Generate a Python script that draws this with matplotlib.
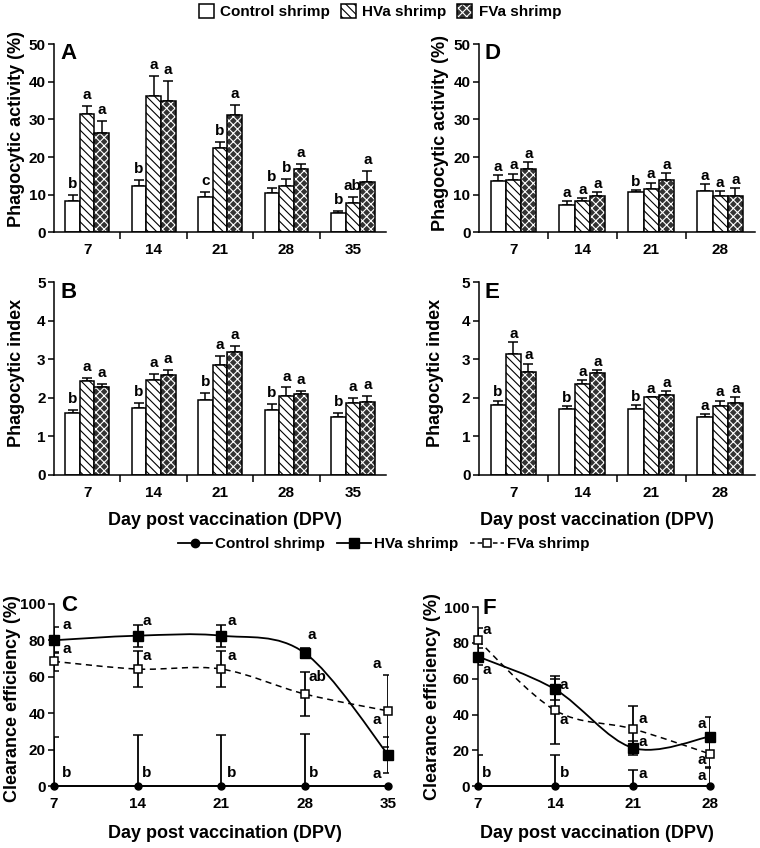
import numpy as np
import matplotlib
matplotlib.use('Agg')
from matplotlib import pyplot as plt
from matplotlib.patches import Patch, PathPatch
from matplotlib.lines import Line2D
from matplotlib.path import Path

plt.rcParams['font.family'] = ['Liberation Sans', 'DejaVu Sans']
plt.rcParams['font.weight'] = 'bold'
plt.rcParams['axes.labelweight'] = 'bold'
plt.rcParams['hatch.linewidth'] = 0.8

# ---------- data ----------
days5 = ['7', '14', '21', '28', '35']
days4 = ['7', '14', '21', '28']

# A: phagocytic activity (%), 5 time points
A_ctrl = [8.2, 12.4, 9.3, 10.5, 5.1]
A_ctrl_err = [1.8, 1.4, 1.5, 1.2, 0.6]
A_hva = [31.5, 36.1, 22.4, 12.4, 7.7]
A_hva_err = [2.1, 5.4, 1.5, 1.8, 1.6]
A_fva = [26.3, 35.0, 31.3, 16.8, 13.3]
A_fva_err = [3.4, 5.3, 2.6, 1.4, 2.9]
A_sig = [['b', 'a', 'a'], ['b', 'a', 'a'], ['c', 'b', 'a'], ['b', 'b', 'a'], ['b', 'ab', 'a']]

# B: phagocytic index
B_ctrl = [1.61, 1.75, 1.94, 1.69, 1.50]
B_ctrl_err = [0.08, 0.13, 0.18, 0.15, 0.11]
B_hva = [2.45, 2.47, 2.85, 2.05, 1.87]
B_hva_err = [0.07, 0.14, 0.24, 0.22, 0.12]
B_fva = [2.29, 2.59, 3.18, 2.11, 1.90]
B_fva_err = [0.08, 0.14, 0.17, 0.08, 0.15]
B_sig = [['b', 'a', 'a']] * 5

# D: phagocytic activity (%), 4 time points
D_ctrl = [13.7, 7.3, 10.7, 10.9]
D_ctrl_err = [1.6, 0.9, 0.6, 1.9]
D_hva = [14.0, 8.2, 11.5, 9.7]
D_hva_err = [1.6, 0.9, 1.7, 1.2]
D_fva = [16.8, 9.7, 13.9, 9.7]
D_fva_err = [1.8, 0.9, 1.8, 2.1]
D_sig = [['a', 'a', 'a'], ['a', 'a', 'a'], ['b', 'a', 'a'], ['a', 'a', 'a']]

# E: phagocytic index
E_ctrl = [1.81, 1.72, 1.72, 1.50]
E_ctrl_err = [0.12, 0.07, 0.09, 0.07]
E_hva = [3.15, 2.35, 2.01, 1.78]
E_hva_err = [0.29, 0.12, 0.02, 0.15]
E_fva = [2.68, 2.65, 2.08, 1.88]
E_fva_err = [0.21, 0.08, 0.09, 0.15]
E_sig = [['b', 'a', 'a'], ['b', 'a', 'a'], ['b', 'a', 'a'], ['a', 'a', 'a']]

# C: clearance efficiency (%)
C_days = [7, 14, 21, 28, 35]
C_ctrl = [0, 0, 0, 0, 0]
C_ctrl_err = [27, 28, 28, 28.5, 0]
C_hva = [80, 82.5, 82.5, 73, 17]
C_hva_err = [7, 6, 6, 2.5, 10]
C_fva = [68.4, 64.2, 64.2, 50.5, 41.2]
C_fva_err = [5, 10, 10, 12, 20]
C_sig = [('a', 8.1, 88.5), ('a', 8.1, 75), ('b', 8.1, 7.3),
         ('a', 14.8, 90.8), ('a', 14.8, 71.6), ('b', 14.8, 7.3),
         ('a', 21.9, 90.8), ('a', 21.9, 71.6), ('b', 21.9, 7.3),
         ('a', 28.6, 82.6), ('ab', 29.1, 60), ('b', 28.75, 7.3),
         ('a', 34.0, 66.8), ('a', 34.0, 36.3), ('a', 34.0, 6.4)]

# F: clearance efficiency (%)
F_days = [7, 14, 21, 28]
F_ctrl = [0, 0, 0, 0]
F_ctrl_err = [17.5, 17.5, 9, 10]
F_hva = [72.4, 54, 21.4, 27.7]
F_hva_err = [5, 5.7, 4, 10.8]
F_fva = [81.4, 42.3, 32, 18]
F_fva_err = [7, 19, 12.5, 7.5]
F_sig = [('a', 7.8, 87.2), ('a', 7.8, 64.7), ('b', 7.8, 7.4),
         ('a', 14.8, 56.7), ('a', 14.8, 36.8), ('b', 14.8, 7.4),
         ('a', 21.9, 37.7), ('a', 21.9, 24.7), ('a', 21.9, 6.7),
         ('a', 27.3, 34.6), ('a', 27.3, 14.5), ('a', 27.3, 5.6)]

FVA_FACE = '#333333'
W = 0.22


def bar_panel(ax, labels, ctrl, ctrl_err, hva, hva_err, fva, fva_err, sig,
              ymax, ystep, letter, sig_off):
    x = np.arange(len(labels))
    zeros = [0] * len(labels)
    ax.bar(x - W, ctrl, W, color='white', edgecolor='black', linewidth=1.1, zorder=2)
    ax.bar(x, hva, W, color='white', edgecolor='black', hatch='\\\\\\\\', linewidth=1.1, zorder=2)
    ax.bar(x + W, fva, W, color=FVA_FACE, edgecolor='white', hatch='xxxx', linewidth=0, zorder=2)
    ax.bar(x + W, fva, W, fill=False, edgecolor='black', linewidth=1.1, zorder=3)
    for dx, vals, errs in [(-W, ctrl, ctrl_err), (0, hva, hva_err), (W, fva, fva_err)]:
        ax.errorbar(x + dx, vals, yerr=[zeros, errs], fmt='none', ecolor='black',
                    elinewidth=1.1, capsize=3.5, capthick=1.1, zorder=1)
    for i in range(len(labels)):
        for j, (dx, vals, errs) in enumerate([(-W, ctrl, ctrl_err), (0, hva, hva_err), (W, fva, fva_err)]):
            ax.annotate(sig[i][j], (x[i] + dx, vals[i] + errs[i]), xytext=(0, sig_off),
                        textcoords='offset points', ha='center', va='baseline', fontsize=11)
    ax.set_xlim(-0.5, len(labels) - 0.5)
    ax.set_ylim(0, ymax)
    ax.set_yticks(np.arange(0, ymax + ystep / 2, ystep))
    ax.set_xticks(x[:-1] + 0.5)
    ax.set_xticklabels([])
    ax.set_xticks(x, minor=True)
    ax.set_xticklabels(labels, minor=True)
    ax.tick_params(axis='x', which='major', direction='out', length=5, width=1.1)
    ax.tick_params(axis='x', which='minor', length=0, pad=8, labelsize=11)
    ax.tick_params(axis='y', direction='out', length=4, width=1.1, labelsize=11, pad=2)
    for s in ['top', 'right']:
        ax.spines[s].set_visible(False)
    for s in ['left', 'bottom']:
        ax.spines[s].set_linewidth(1.1)
    ax.text(0.02, 0.95, letter, transform=ax.transAxes, fontsize=16, ha='left', va='center')


def smooth_path(xs, ys):
    # Catmull-Rom style Bezier through the data points (like a smoothed line)
    pts = np.column_stack([xs, ys]).astype(float)
    ext = np.vstack([pts[0], pts, pts[-1]])
    verts = [pts[0]]
    codes = [Path.MOVETO]
    for i in range(len(pts) - 1):
        p0, p1, p2, p3 = ext[i], ext[i + 1], ext[i + 2], ext[i + 3]
        verts += [p1 + (p2 - p0) / 6, p2 - (p3 - p1) / 6, p2]
        codes += [Path.CURVE4] * 3
    return Path(verts, codes)


def line_panel(ax, days, ctrl, ctrl_err, hva, hva_err, fva, fva_err, sig, letter):
    ax.plot(days, ctrl, color='black', lw=1.3, marker='o', ms=5, clip_on=False, zorder=4)
    ax.add_patch(PathPatch(smooth_path(days, hva), fill=False, edgecolor='black', lw=1.3, zorder=3))
    ax.add_patch(PathPatch(smooth_path(days, fva), fill=False, edgecolor='black', lw=1.1,
                           linestyle=(0, (4, 3)), zorder=3))
    ax.plot(days, hva, ls='none', marker='s', ms=7, color='black', zorder=5, clip_on=False)
    ax.plot(days, fva, ls='none', marker='s', ms=5.5, mfc='white', mec='black', mew=1.1,
            zorder=5, clip_on=False)
    for vals, errs in [(ctrl, ctrl_err), (hva, hva_err), (fva, fva_err)]:
        ax.errorbar(days, vals, yerr=errs, fmt='none', ecolor='black', elinewidth=1.3,
                    capsize=3.5, capthick=1.1, zorder=2)
    for t, xx, yy in sig:
        ax.text(xx, yy, t, ha='center', va='center', fontsize=11)
    ax.set_xlim(days[0], days[-1])
    ax.set_ylim(0, 100)
    ax.set_xticks(days)
    ax.set_yticks(np.arange(0, 101, 20))
    ax.tick_params(axis='x', length=0, pad=8, labelsize=11)
    ax.tick_params(axis='y', direction='out', length=4, width=1.1, labelsize=11, pad=2)
    for s in ['top', 'right']:
        ax.spines[s].set_visible(False)
    for s in ['left', 'bottom']:
        ax.spines[s].set_linewidth(1.1)
    ax.text(0.02, 0.99, letter, transform=ax.transAxes, fontsize=16, ha='left', va='center')


fig = plt.figure(figsize=(7.6, 8.48), dpi=100)
axA = fig.add_axes([0.071, 0.726, 0.437, 0.222])
axD = fig.add_axes([0.630, 0.726, 0.363, 0.222])
axB = fig.add_axes([0.071, 0.440, 0.437, 0.227])
axE = fig.add_axes([0.630, 0.440, 0.363, 0.227])
axC = fig.add_axes([0.071, 0.073, 0.440, 0.215])
axF = fig.add_axes([0.629, 0.073, 0.305, 0.211])

bar_panel(axA, days5, A_ctrl, A_ctrl_err, A_hva, A_hva_err, A_fva, A_fva_err, A_sig, 50, 10, 'A', 5)
bar_panel(axB, days5, B_ctrl, B_ctrl_err, B_hva, B_hva_err, B_fva, B_fva_err, B_sig, 5, 1, 'B', 5)
bar_panel(axD, days4, D_ctrl, D_ctrl_err, D_hva, D_hva_err, D_fva, D_fva_err, D_sig, 50, 10, 'D', 3)
bar_panel(axE, days4, E_ctrl, E_ctrl_err, E_hva, E_hva_err, E_fva, E_fva_err, E_sig, 5, 1, 'E', 3)
line_panel(axC, C_days, C_ctrl, C_ctrl_err, C_hva, C_hva_err, C_fva, C_fva_err, C_sig, 'C')
line_panel(axF, F_days, F_ctrl, F_ctrl_err, F_hva, F_hva_err, F_fva, F_fva_err, F_sig, 'F')

# label coords: x is the right edge of the rotated label
axA.set_ylabel('Phagocytic activity (%)', fontsize=13)
axA.yaxis.set_label_coords(-0.087, 0.55)
axD.set_ylabel('Phagocytic activity (%)', fontsize=13)
axD.yaxis.set_label_coords(-0.109, 0.53)
axB.set_ylabel('Phagocytic index', fontsize=13)
axB.yaxis.set_label_coords(-0.087, 0.53)
axE.set_ylabel('Phagocytic index', fontsize=13)
axE.yaxis.set_label_coords(-0.127, 0.53)
axC.set_ylabel('Clearance efficiency (%)', fontsize=13)
axC.yaxis.set_label_coords(-0.099, 0.48)
axF.set_ylabel('Clearance efficiency (%)', fontsize=13)
axF.yaxis.set_label_coords(-0.16, 0.50)

for ax, xc, yc in [(axB, 0.515, -0.192), (axE, 0.428, -0.192), (axC, 0.512, -0.214), (axF, 0.513, -0.218)]:
    ax.set_xlabel('Day post vaccination (DPV)', fontsize=13)
    ax.xaxis.set_label_coords(xc, yc)

# ---------- legends ----------
bar_handles = [
    Patch(facecolor='white', edgecolor='black', linewidth=1.1),
    Patch(facecolor='white', edgecolor='black', hatch='\\\\\\\\', linewidth=1.1),
    (Patch(facecolor=FVA_FACE, edgecolor='white', hatch='xxxx', linewidth=0),
     Patch(fill=False, edgecolor='black', linewidth=1.1)),
]
fig.legend(bar_handles, ['Control shrimp', 'HVa shrimp', 'FVa shrimp'], loc='center',
           bbox_to_anchor=(0.5, 0.986), ncol=3, frameon=False, fontsize=11,
           handlelength=1.0, handleheight=1.0, handletextpad=0.4, columnspacing=0.7)

line_handles = [
    Line2D([], [], color='black', lw=1.3, marker='o', ms=6),
    Line2D([], [], color='black', lw=1.3, marker='s', ms=7),
    Line2D([], [], color='black', lw=1.1, ls=(0, (3, 2)), marker='s', ms=6, mfc='white', mew=1.1),
]
fig.legend(line_handles, ['Control shrimp', 'HVa shrimp', 'FVa shrimp'], loc='center',
           bbox_to_anchor=(0.505, 0.358), ncol=3, frameon=False, fontsize=11,
           handlelength=2.2, handletextpad=0.2, columnspacing=0.8)

fig.savefig('out.png', dpi=100)
